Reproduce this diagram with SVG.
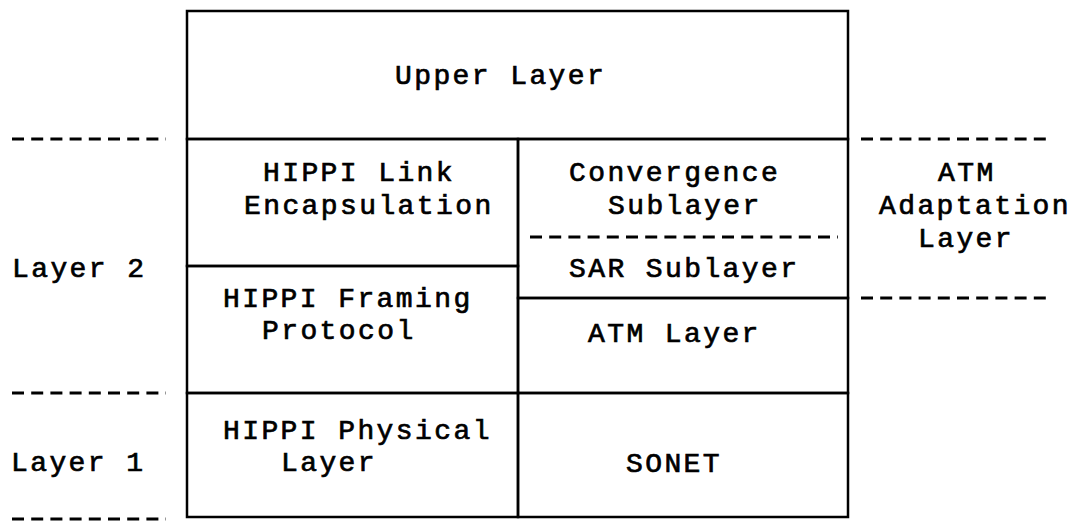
<svg xmlns="http://www.w3.org/2000/svg" width="1078" height="521" viewBox="0 0 1078 521">
<style>
  .cell { fill: none; stroke: #000; stroke-width: 2.5; }
  .t { font-family: "Liberation Mono", "Courier New", monospace; font-size: 28px; letter-spacing: 2.4px; fill: #000; stroke: #000; stroke-width: 0.7; }
  .dash { stroke: #000; stroke-width: 3; stroke-dasharray: 12 7.2; fill: none; }
</style>
<rect width="1078" height="521" fill="#fff"/>
<g id="upper-layer">
  <rect class="cell" x="187" y="11" width="661" height="128"/>
  <text class="t" x="395" y="84">Upper Layer</text>
</g>
<g id="hippi-link-encapsulation">
  <rect class="cell" x="187" y="139" width="331" height="127"/>
  <text class="t" x="263" y="181">HIPPI Link</text>
  <text class="t" x="244" y="214">Encapsulation</text>
</g>
<g id="hippi-framing-protocol">
  <rect class="cell" x="187" y="266" width="331" height="127"/>
  <text class="t" x="223" y="307">HIPPI Framing</text>
  <text class="t" x="262" y="339">Protocol</text>
</g>
<g id="hippi-physical-layer">
  <rect class="cell" x="187" y="393" width="331" height="124"/>
  <text class="t" x="223" y="439">HIPPI Physical</text>
  <text class="t" x="281" y="471">Layer</text>
</g>
<g id="convergence-sublayer">
  <rect class="cell" x="518" y="139" width="330" height="159"/>
  <text class="t" x="569" y="181">Convergence</text>
  <text class="t" x="608" y="214">Sublayer</text>
</g>
<g id="sar-sublayer">
  <text class="t" x="569" y="277">SAR Sublayer</text>
</g>
<g id="atm-layer">
  <rect class="cell" x="518" y="298" width="330" height="95"/>
  <text class="t" x="588" y="342">ATM Layer</text>
</g>
<g id="sonet">
  <rect class="cell" x="518" y="393" width="330" height="124"/>
  <text class="t" x="626" y="472">SONET</text>
</g>
<g id="layer-2">
  <text class="t" x="12" y="277">Layer 2</text>
</g>
<g id="layer-1">
  <text class="t" x="11" y="471">Layer 1</text>
</g>
<g id="atm-adaptation-layer">
  <text class="t" x="938" y="181">ATM</text>
  <text class="t" x="879" y="214">Adaptation</text>
  <text class="t" x="918" y="247">Layer</text>
</g>
<g id="connectors">
  <line class="dash" x1="12" y1="139" x2="166" y2="139"/>
  <line class="dash" x1="12" y1="393" x2="166" y2="393"/>
  <line class="dash" x1="12" y1="519" x2="166" y2="519"/>
  <line class="dash" x1="530" y1="237" x2="838" y2="237"/>
  <line class="dash" x1="861" y1="139" x2="1053" y2="139"/>
  <line class="dash" x1="861" y1="298" x2="1053" y2="298"/>
</g>
</svg>
